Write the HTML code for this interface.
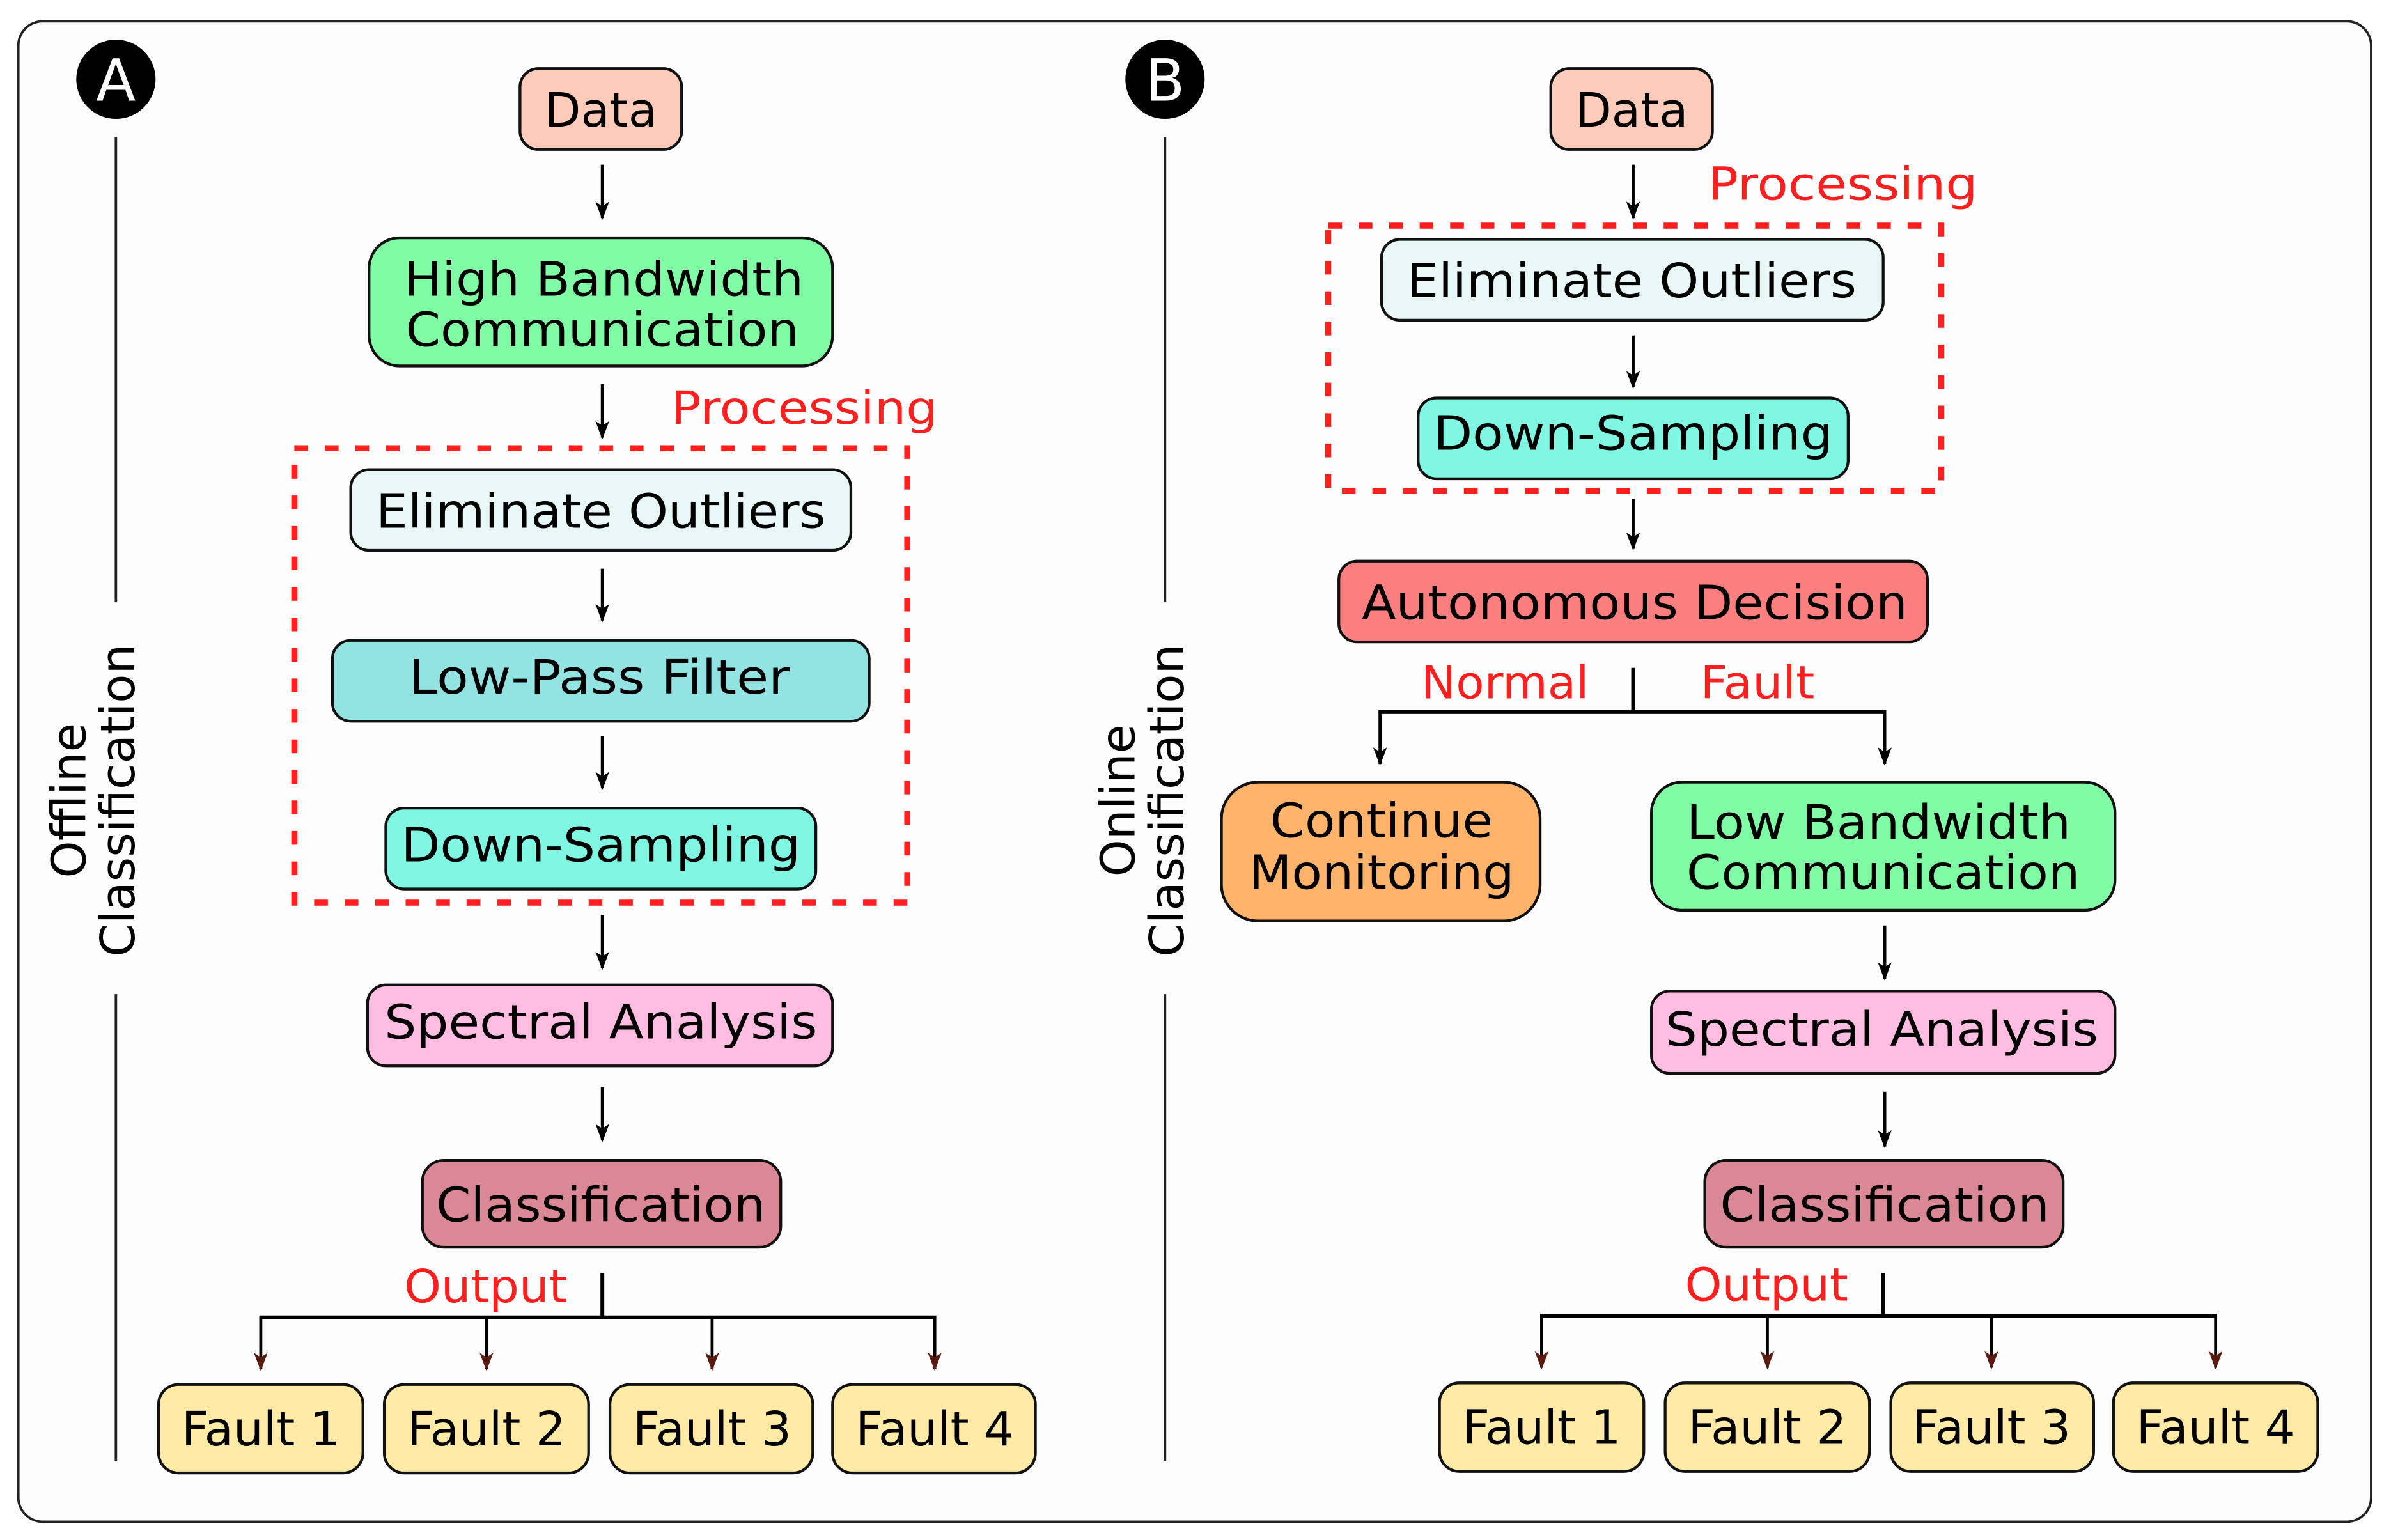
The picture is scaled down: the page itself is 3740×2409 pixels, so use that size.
<!DOCTYPE html>
<html><head><meta charset="utf-8"><style>
html,body{margin:0;padding:0;background:#fff;}
svg{display:block;}
text{font-family:"DejaVu Sans","Liberation Sans",sans-serif;}
</style></head><body>
<svg width="3740" height="2409" viewBox="0 0 1568 1010" xmlns="http://www.w3.org/2000/svg">
<defs>
<marker id="ah" viewBox="0 0 10 10" refX="9" refY="5" markerWidth="12" markerHeight="9" orient="auto" markerUnits="userSpaceOnUse" preserveAspectRatio="none">
<path d="M0,0 L10,5 L0,10 L2.5,5 z" fill="#000"/></marker>
<marker id="ahb" viewBox="0 0 10 10" refX="9" refY="5" markerWidth="12" markerHeight="9" orient="auto" markerUnits="userSpaceOnUse" preserveAspectRatio="none">
<path d="M0,0 L10,5 L0,10 L2.5,5 z" fill="#5a1a10"/></marker>
</defs>
<rect x="0" y="0" width="1568" height="1010" fill="#fff"/>
<rect x="12" y="14" width="1543" height="984" rx="16" fill="#fdfdfd" stroke="#222" stroke-width="1.6"/>

<circle cx="76" cy="52" r="26" fill="#000"/>
<text x="76" y="66" font-size="38" fill="#fff" text-anchor="middle">A</text>
<circle cx="764" cy="52" r="26" fill="#000"/>
<text x="764" y="66" font-size="38" fill="#fff" text-anchor="middle">B</text>

<g stroke="#222" stroke-width="1.6">
<line x1="76" y1="90" x2="76" y2="395"/><line x1="76" y1="652" x2="76" y2="958"/>
<line x1="764" y1="90" x2="764" y2="395"/><line x1="764" y1="652" x2="764" y2="958"/>
</g>
<g font-size="31" fill="#000" text-anchor="middle">
<text transform="translate(56,525) rotate(-90)">Offline</text>
<text transform="translate(88,525) rotate(-90)">Classification</text>
<text transform="translate(744,525) rotate(-90)">Online</text>
<text transform="translate(776,525) rotate(-90)">Classification</text>
</g>

<g stroke="#111" stroke-width="1.8">
<rect x="341" y="45" width="106" height="53" rx="12" fill="#fccbb9"/>
<rect x="242" y="156" width="304" height="84" rx="20" fill="#80fda4"/>
<rect x="230" y="308" width="328" height="53" rx="12" fill="#e8f8f6"/>
<rect x="218" y="420" width="352" height="53" rx="12" fill="#94e3e3"/>
<rect x="253" y="530" width="282" height="53" rx="12" fill="#80f7e3"/>
<rect x="241" y="646" width="305" height="53" rx="12" fill="#ffbde1"/>
<rect x="277" y="761" width="235" height="57" rx="14" fill="#da8893"/>
<rect x="104" y="908" width="134" height="58" rx="13" fill="#ffeaa6"/>
<rect x="252" y="908" width="134" height="58" rx="13" fill="#ffeaa6"/>
<rect x="400" y="908" width="133" height="58" rx="13" fill="#ffeaa6"/>
<rect x="546" y="908" width="133" height="58" rx="13" fill="#ffeaa6"/>
<rect x="1017" y="45" width="106" height="53" rx="12" fill="#fccbb9"/>
<rect x="906" y="157" width="329" height="53" rx="12" fill="#e8f8f6"/>
<rect x="930" y="261" width="282" height="53" rx="12" fill="#80f7e3"/>
<rect x="878" y="368" width="386" height="53" rx="12" fill="#fb7f7f"/>
<rect x="801" y="513" width="209" height="91" rx="24" fill="#ffb36b"/>
<rect x="1083" y="513" width="304" height="84" rx="20" fill="#80fda4"/>
<rect x="1083" y="650" width="304" height="54" rx="12" fill="#ffbde1"/>
<rect x="1118" y="761" width="235" height="57" rx="14" fill="#da8893"/>
<rect x="944" y="907" width="134" height="58" rx="13" fill="#ffeaa6"/>
<rect x="1092" y="907" width="134" height="58" rx="13" fill="#ffeaa6"/>
<rect x="1240" y="907" width="133" height="58" rx="13" fill="#ffeaa6"/>
<rect x="1386" y="907" width="134" height="58" rx="13" fill="#ffeaa6"/>
</g>

<g fill="none" stroke="#ff1f1f" stroke-width="4" stroke-dasharray="9,11">
<rect x="193" y="294" width="402" height="298"/>
<rect x="871" y="148" width="402" height="174"/>
</g>

<g stroke="#000" stroke-width="2" marker-end="url(#ah)">
<line x1="395" y1="108" x2="395" y2="143"/>
<line x1="395" y1="252" x2="395" y2="287"/>
<line x1="395" y1="373" x2="395" y2="407"/>
<line x1="395" y1="483" x2="395" y2="517"/>
<line x1="395" y1="600" x2="395" y2="635"/>
<line x1="395" y1="713" x2="395" y2="748"/>
<line x1="1071" y1="108" x2="1071" y2="143"/>
<line x1="1071" y1="220" x2="1071" y2="254"/>
<line x1="1071" y1="327" x2="1071" y2="360"/>
<line x1="905" y1="467" x2="905" y2="501"/>
<line x1="1236" y1="467" x2="1236" y2="501"/>
<line x1="1236" y1="607" x2="1236" y2="642"/>
<line x1="1236" y1="716" x2="1236" y2="752"/>
</g>
<g stroke="#000" stroke-width="2.5" fill="none">
<line x1="395" y1="835" x2="395" y2="864"/>
<line x1="170" y1="864" x2="614" y2="864"/>
<line x1="1235" y1="835" x2="1235" y2="863"/>
<line x1="1010" y1="863" x2="1454" y2="863"/>
<line x1="1071" y1="438" x2="1071" y2="467"/>
<line x1="904" y1="467" x2="1237" y2="467"/>
</g>
<g stroke="#000" stroke-width="2" marker-end="url(#ahb)">
<line x1="171" y1="864" x2="171" y2="898"/>
<line x1="319" y1="864" x2="319" y2="898"/>
<line x1="467" y1="864" x2="467" y2="898"/>
<line x1="613" y1="864" x2="613" y2="898"/>
<line x1="1011" y1="863" x2="1011" y2="897"/>
<line x1="1159" y1="863" x2="1159" y2="897"/>
<line x1="1306" y1="863" x2="1306" y2="897"/>
<line x1="1453" y1="863" x2="1453" y2="897"/>
</g>

<g fill="#ff1f1f" font-size="30">
<text x="440" y="278" textLength="175" lengthAdjust="spacingAndGlyphs">Processing</text>
<text x="1120" y="131" textLength="177" lengthAdjust="spacingAndGlyphs">Processing</text>
<text x="265" y="854" textLength="107" lengthAdjust="spacingAndGlyphs">Output</text>
<text x="1105" y="853" textLength="107" lengthAdjust="spacingAndGlyphs">Output</text>
<text x="932" y="458" textLength="110" lengthAdjust="spacingAndGlyphs">Normal</text>
<text x="1115" y="458" textLength="75" lengthAdjust="spacingAndGlyphs">Fault</text>
</g>

<g fill="#000" font-size="31" text-anchor="middle">
<text x="394" y="83">Data</text>
<text x="396" y="194" textLength="262" lengthAdjust="spacingAndGlyphs">High Bandwidth</text>
<text x="395" y="227" textLength="258" lengthAdjust="spacingAndGlyphs">Communication</text>
<text x="394" y="346" textLength="295" lengthAdjust="spacingAndGlyphs">Eliminate Outliers</text>
<text x="393" y="455" textLength="250" lengthAdjust="spacingAndGlyphs">Low-Pass Filter</text>
<text x="394" y="565" textLength="262" lengthAdjust="spacingAndGlyphs">Down-Sampling</text>
<text x="394" y="681" textLength="284" lengthAdjust="spacingAndGlyphs">Spectral Analysis</text>
<text x="394" y="801" textLength="216" lengthAdjust="spacingAndGlyphs">Classification</text>
<text x="171" y="948">Fault 1</text>
<text x="319" y="948">Fault 2</text>
<text x="467" y="948">Fault 3</text>
<text x="613" y="948">Fault 4</text>

<text x="1070" y="83">Data</text>
<text x="1070" y="195" textLength="295" lengthAdjust="spacingAndGlyphs">Eliminate Outliers</text>
<text x="1071" y="295" textLength="262" lengthAdjust="spacingAndGlyphs">Down-Sampling</text>
<text x="1072" y="406" textLength="358" lengthAdjust="spacingAndGlyphs">Autonomous Decision</text>
<text x="906" y="549" textLength="146" lengthAdjust="spacingAndGlyphs">Continue</text>
<text x="906" y="583" textLength="174" lengthAdjust="spacingAndGlyphs">Monitoring</text>
<text x="1232" y="550" textLength="252" lengthAdjust="spacingAndGlyphs">Low Bandwidth</text>
<text x="1235" y="583" textLength="258" lengthAdjust="spacingAndGlyphs">Communication</text>
<text x="1234" y="686" textLength="284" lengthAdjust="spacingAndGlyphs">Spectral Analysis</text>
<text x="1236" y="801" textLength="216" lengthAdjust="spacingAndGlyphs">Classification</text>
<text x="1011" y="947">Fault 1</text>
<text x="1159" y="947">Fault 2</text>
<text x="1306" y="947">Fault 3</text>
<text x="1453" y="947">Fault 4</text>
</g>
</svg>
</body></html>
